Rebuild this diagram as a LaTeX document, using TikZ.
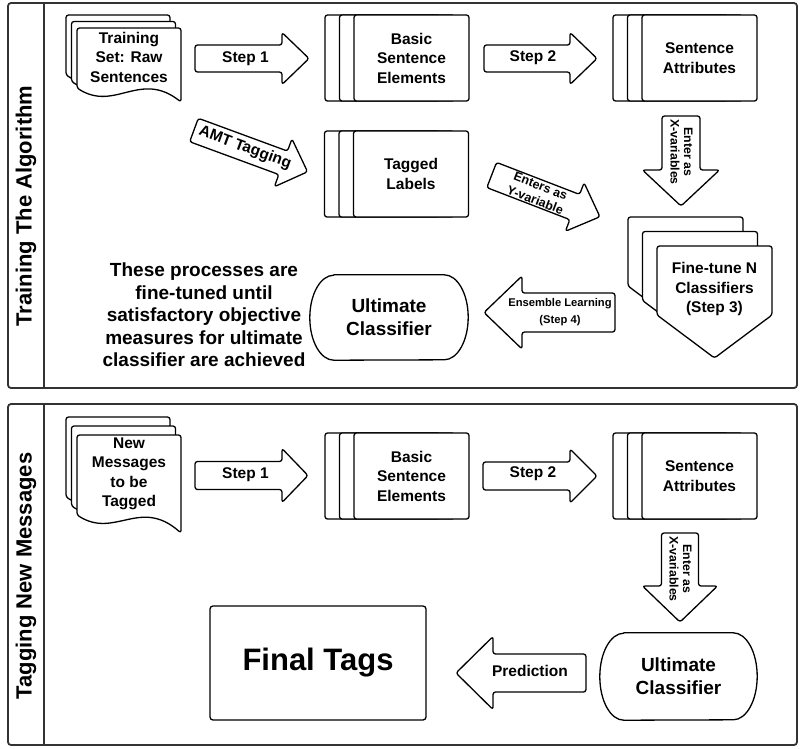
\documentclass[tikz,border=0pt]{standalone}
\usepackage{fontspec}
\setmainfont{Liberation Sans}

\tikzset{
  pics/blockarrow/.style args={#1/#2/#3/#4}{code={
    \draw[outline] (0,#2) -- ({#1-#4},#2) -- ({#1-#4},#3) -- (#1,0)
      -- ({#1-#4},-#3) -- ({#1-#4},-#2) -- (0,-#2) -- cycle;
  }}
}

\begin{document}
\begin{tikzpicture}[x=1pt, y=1pt]
  \tikzstyle{lane} = [draw=black!80, line width=1.8pt, rounded corners=3pt]
  \tikzstyle{outline} = [draw=black, fill=white, line width=1.3pt, rounded corners=2.5pt, line join=round]
  \tikzstyle{txt} = [align=center, inner sep=0pt, font=\bfseries\fontsize{15.5}{19.5}\selectfont]
  \tikzstyle{bigtxt} = [txt, font=\bfseries\fontsize{19}{23}\selectfont]
  \tikzstyle{tinytxt} = [txt, font=\bfseries\fontsize{12.3}{13.5}\selectfont]
  \tikzstyle{card} = [outline, txt, rectangle, minimum width=115pt, minimum height=86pt]
  \tikzstyle{lanetitle} = [rotate=90, font=\bfseries\fontsize{22}{26}\selectfont]

  \useasboundingbox (0,0) rectangle (801,-748);

  % lanes
  \draw[lane] (8,-3) rectangle (797,-388);
  \draw[lane] (44,-3) -- (44,-388);
  \node[lanetitle] (trainlane) at (26,-206) {Training The Algorithm};
  \draw[lane] (8,-404) rectangle (797,-745);
  \draw[lane] (44,-404) -- (44,-745);
  \node[lanetitle] (taglane) at (26,-576) {Tagging New Messages};

  % training lane
  \foreach \dx/\dy in {-11/13,-5.5/6.5,0/0}
    \draw[outline, shift={(\dx,\dy)}] (77,-28) -- (181,-28) -- (181,-102)
      .. controls (140,-70) and (115,-112) .. (77,-88) -- cycle;
  \node[txt] (trainset) at (129,-57) {Training\\Set: Raw\\Sentences};

  \pic at (195,-58.5) {blockarrow=114/13.5/26/27};
  \node[txt] (step1a) at (245.5,-58.5) {Step 1};

  \foreach \i in {2,1} \node[card] (basicA\i) at ({411.5-14.5*\i},-58) {};
  \node[card] (basicA) at (411.5,-58) {Basic\\Sentence\\Elements};

  \pic at (484,-58.5) {blockarrow=113/13.5/26/27};
  \node[txt] (step2a) at (533,-58) {Step 2};

  \foreach \i in {2,1} \node[card] (attrA\i) at ({699.5-14.5*\i},-58) {};
  \node[card] (attrA) at (699.5,-58) {Sentence\\Attributes};

  \pic[rotate=-20.2] at (194,-130) {blockarrow=121/12.5/25.5/26};
  \node[txt, rotate=-20.2] (amt) at (245,-148) {AMT Tagging};

  \foreach \i in {2,1} \node[card] (tagged\i) at ({411-14.5*\i},-174) {};
  \node[card] (tagged) at (411,-174) {Tagged\\Labels};

  \pic[rotate=-21.1] at (491.7,-175) {blockarrow=116/13.5/26/27};
  \node[txt, rotate=-21.1, font=\bfseries\fontsize{12.5}{15}\selectfont] (yvar) at (538,-193) {Enters as\\Y-variable};

  \pic[rotate=-90] at (681,-116) {blockarrow=90/19/38.5/36};
  \node[tinytxt, rotate=-90] (xvarA) at (681.5,-152) {Enter as\\X-variables};

  \foreach \d in {29,14.5,0}
    \draw[outline, shift={(-\d,\d)}] (657,-246) -- (772,-246) -- (772,-315) -- (714.5,-358) -- (657,-315) -- cycle;
  \node[txt] (finetune) at (714.5,-289) {Fine-tune N\\Classifiers\\(Step 3)};

  \pic[rotate=180] at (615,-312.5) {blockarrow=131/19.5/36.5/38};
  \node[txt, font=\bfseries\fontsize{11.2}{17}\selectfont] (ensemble) at (560,-312.5) {Ensemble Learning\\(Step 4)};

  \node[bigtxt, minimum width=158pt, minimum height=85pt] (ultA) at (389,-317.5) {Ultimate\\Classifier};
  \draw[outline, fill=none, sharp corners] ([xshift=24pt]ultA.north west) -- ([xshift=-24pt]ultA.north east)
    arc[start angle=90, end angle=-90, x radius=24pt, y radius=42.5pt]
    -- ([xshift=24pt]ultA.south west)
    arc[start angle=270, end angle=90, x radius=24pt, y radius=42.5pt] -- cycle;

  \node[bigtxt, font=\bfseries\fontsize{19}{22.5}\selectfont] (remark) at (204,-315) {These processes are\\fine-tuned until\\satisfactory objective\\measures for ultimate\\classifier are achieved};

  % tagging lane
  \foreach \dx/\dy in {-11/18,-5.5/9,0/0}
    \draw[outline, shift={(\dx,\dy)}] (77,-435) -- (181,-435) -- (181,-533)
      .. controls (140,-497) and (115,-539) .. (77,-515) -- cycle;
  \node[txt] (newmsg) at (129,-474) {New\\Messages\\to be\\Tagged};

  \pic at (195,-475.5) {blockarrow=113/14/27/26};
  \node[txt] (step1b) at (245.5,-475) {Step 1};

  \foreach \i in {2,1} \node[card] (basicB\i) at ({411.5-14.5*\i},-476) {};
  \node[card] (basicB) at (411.5,-476) {Basic\\Sentence\\Elements};

  \pic at (483,-476) {blockarrow=114/14/27/27};
  \node[txt] (step2b) at (533,-474) {Step 2};

  \foreach \i in {2,1} \node[card] (attrB\i) at ({699.5-14.5*\i},-476) {};
  \node[card] (attrB) at (699.5,-476) {Sentence\\Attributes};

  \pic[rotate=-90] at (680,-533) {blockarrow=89/18.5/37.5/36};
  \node[tinytxt, rotate=-90] (xvarB) at (680.5,-569) {Enter as\\X-variables};

  \node[bigtxt, minimum width=157pt, minimum height=87pt] (ultB) at (678.5,-676.5) {Ultimate\\Classifier};
  \draw[outline, fill=none, sharp corners] ([xshift=24pt]ultB.north west) -- ([xshift=-24pt]ultB.north east)
    arc[start angle=90, end angle=-90, x radius=24pt, y radius=43.5pt]
    -- ([xshift=24pt]ultB.south west)
    arc[start angle=270, end angle=90, x radius=24pt, y radius=43.5pt] -- cycle;

  \pic[rotate=180] at (586,-673) {blockarrow=130/19/36.5/37};
  \node[txt] (predict) at (530,-671) {Prediction};

  \node[draw, line width=1.3pt, rounded corners=3pt, minimum width=216pt, minimum height=114pt,
    font=\bfseries\fontsize{31}{36}\selectfont] (final) at (318,-663) {Final Tags};
\end{tikzpicture}
\end{document}
